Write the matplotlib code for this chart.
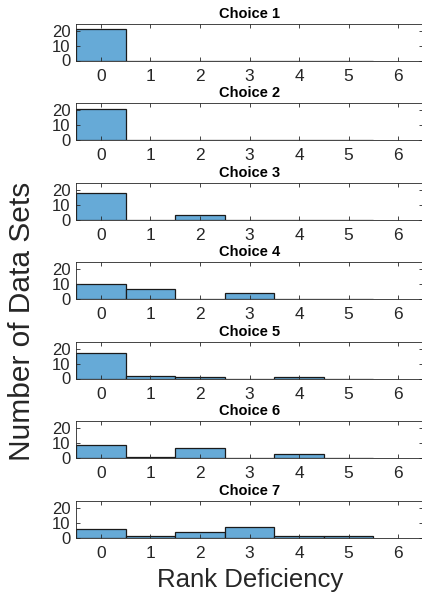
import numpy as np
import matplotlib.pyplot as plt

plt.rcParams['font.family'] = ['Liberation Sans', 'DejaVu Sans']

# rank deficiency bins and counts for each choice
ranks = [0, 1, 2, 3, 4, 5]
choices = ['Choice 1', 'Choice 2', 'Choice 3', 'Choice 4',
           'Choice 5', 'Choice 6', 'Choice 7']
counts = [
    [21, 0, 0, 0, 0, 0],
    [21, 0, 0, 0, 0, 0],
    [18, 0, 3, 0, 0, 0],
    [10, 7, 0, 4, 0, 0],
    [17, 2, 1, 0, 1, 0],
    [9, 1, 7, 0, 3, 0],
    [6, 1, 4, 7, 1, 1],
]
xticks = [0, 1, 2, 3, 4, 5, 6]
yticks = [0, 10, 20]

W, H = 422, 596
fig = plt.figure(figsize=(W / 100, H / 100), dpi=100)

dark = '#262626'
bar_col = '#66aad7'
left = 76
top0 = 23.5
step = 79.5
ah = 37

for i, (name, c) in enumerate(zip(choices, counts)):
    top = top0 + i * step
    ax = fig.add_axes([left / W, 1 - (top + ah) / H, (W - left + 1) / W, ah / H])
    ax.bar(ranks, c, width=1.0, color=bar_col, edgecolor='#1a1a1a', linewidth=0.9)
    ax.set_xlim(-0.5, 6.5)
    ax.set_ylim(0, 25)
    ax.set_xticks(xticks)
    ax.set_yticks(yticks)
    ax.tick_params(direction='in', length=3, width=0.6, colors=dark,
                   top=True, right=True)
    ax.tick_params(axis='x', labelsize=12.5, pad=6)
    ax.tick_params(axis='y', labelsize=12, pad=4)
    for s in ax.spines.values():
        s.set_color(dark)
        s.set_linewidth(0.6)
    ax.set_title(name, fontsize=10.5, fontweight='bold', pad=4, color='black')

fig.text(250 / W, 1 - 580 / H, 'Rank Deficiency', fontsize=18.5, color=dark,
         ha='center', va='center')
fig.text(22 / W, 1 - 321 / H, 'Number of Data Sets', fontsize=21.5, color=dark,
         ha='center', va='center', rotation=90)

fig.savefig('out.png', dpi=100)
